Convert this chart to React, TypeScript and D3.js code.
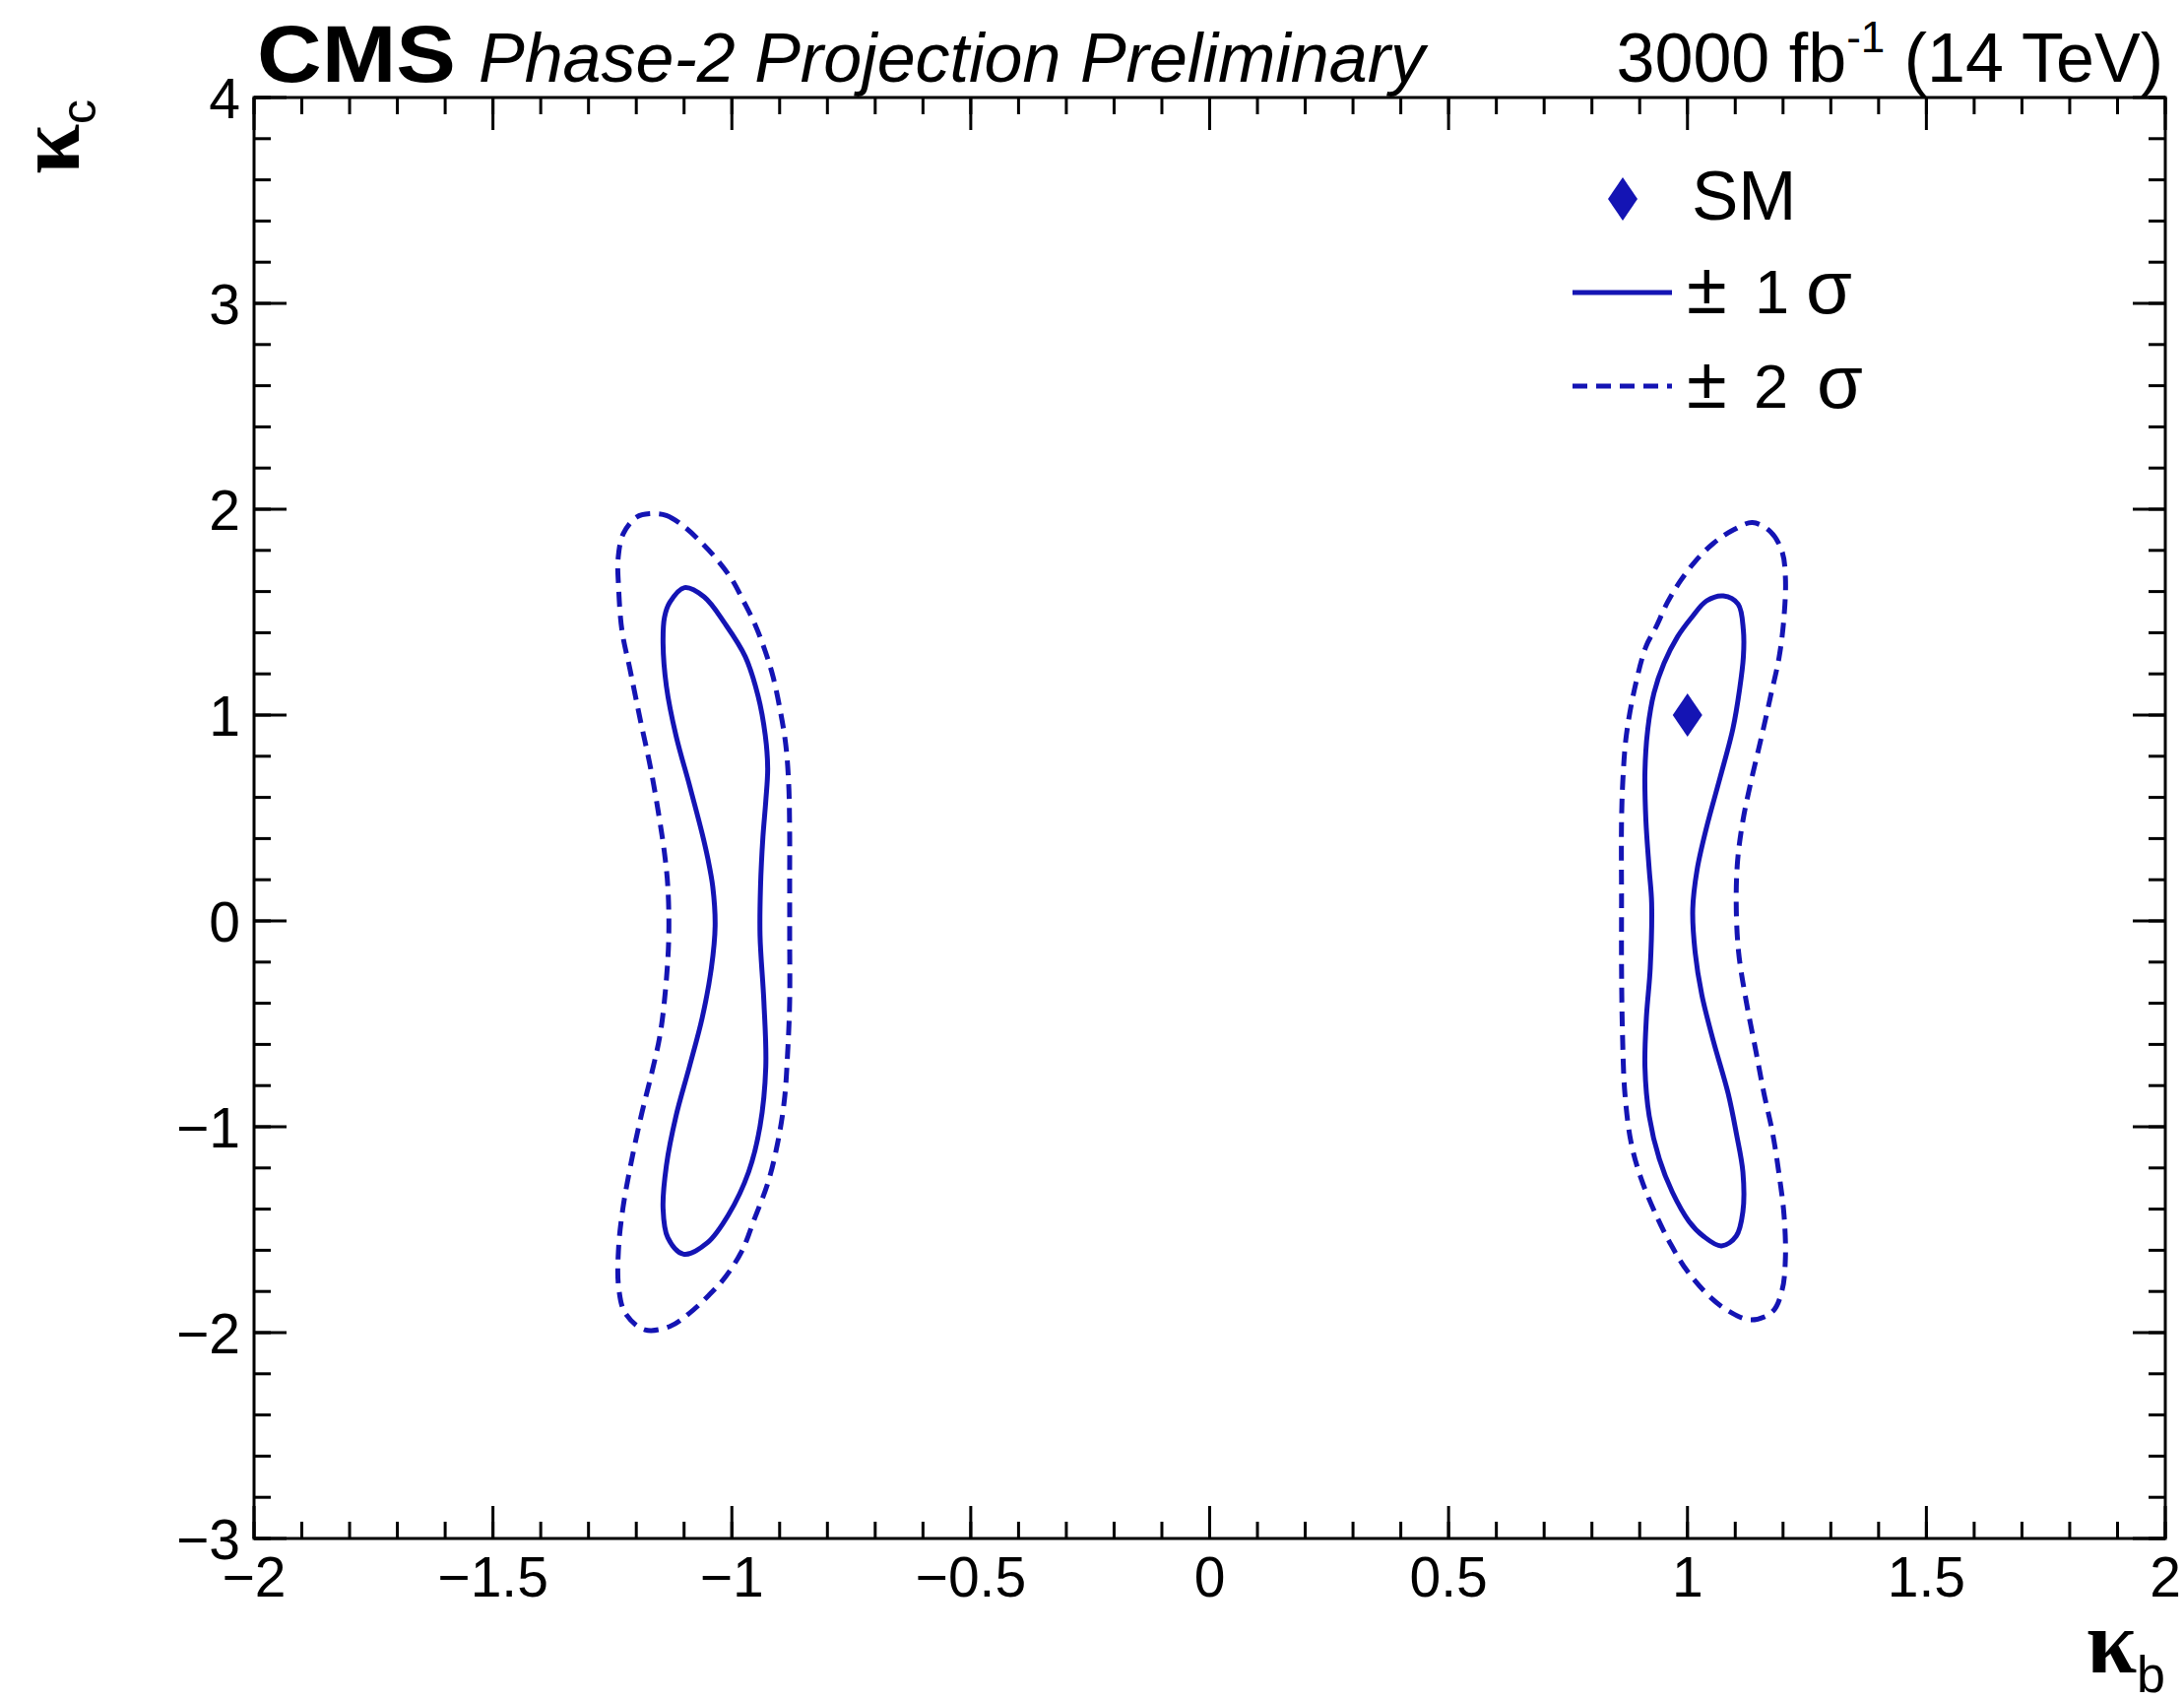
import React from "react";
import * as d3 from "d3";

const X_TICKS = [-2, -1.5, -1, -0.5, 0, 0.5, 1, 1.5, 2];
const X_TICK_LABELS = ["−2", "−1.5", "−1", "−0.5", "0", "0.5", "1", "1.5", "2"];
const Y_TICKS = [-3, -2, -1, 0, 1, 2, 3, 4];
const Y_TICK_LABELS = ["−3", "−2", "−1", "0", "1", "2", "3", "4"];

const SM_POINT: [number, number] = [1, 1];

const LEFT_1SIGMA: [number, number][] = [
  [-1.099, 1.619], [-1.058, 1.574], [-1.014, 1.443], [-0.972, 1.284], [-0.945, 1.092],
  [-0.93, 0.901], [-0.925, 0.742], [-0.929, 0.582], [-0.935, 0.407], [-0.94, 0.167],
  [-0.941, -0.072], [-0.933, -0.391], [-0.929, -0.71], [-0.941, -0.997], [-0.965, -1.22],
  [-1.007, -1.427], [-1.051, -1.563], [-1.101, -1.619], [-1.134, -1.539], [-1.144, -1.396],
  [-1.137, -1.188], [-1.117, -0.949], [-1.089, -0.71], [-1.062, -0.47], [-1.043, -0.231],
  [-1.035, -0.024], [-1.04, 0.167], [-1.05, 0.3], [-1.062, 0.423], [-1.089, 0.662],
  [-1.117, 0.901], [-1.137, 1.14], [-1.144, 1.348], [-1.141, 1.475], [-1.13, 1.547],
];

const LEFT_2SIGMA: [number, number][] = [
  [-1.172, 1.978], [-1.137, 1.97], [-1.099, 1.914], [-1.062, 1.834], [-1.031, 1.755],
  [-1.0, 1.659], [-0.976, 1.555], [-0.952, 1.443], [-0.931, 1.316], [-0.914, 1.188],
  [-0.898, 1.013], [-0.887, 0.853], [-0.881, 0.662], [-0.879, 0.423], [-0.879, 0.247],
  [-0.879, -0.072], [-0.879, -0.391], [-0.883, -0.63], [-0.89, -0.869], [-0.904, -1.077],
  [-0.924, -1.268], [-0.952, -1.443], [-0.979, -1.603], [-1.014, -1.731], [-1.048, -1.818],
  [-1.089, -1.906], [-1.13, -1.97], [-1.182, -1.986], [-1.223, -1.906], [-1.237, -1.778],
  [-1.237, -1.587], [-1.228, -1.396], [-1.212, -1.188], [-1.19, -0.949], [-1.168, -0.742],
  [-1.15, -0.55], [-1.138, -0.311], [-1.132, -0.072], [-1.134, 0.167], [-1.141, 0.33],
  [-1.152, 0.502], [-1.17, 0.742], [-1.192, 0.981], [-1.213, 1.22], [-1.23, 1.411],
  [-1.237, 1.619], [-1.238, 1.762], [-1.227, 1.882], [-1.199, 1.962],
];

const RIGHT_1SIGMA: [number, number][] = [
  [1.075, 1.579], [1.106, 1.539], [1.117, 1.411], [1.117, 1.284], [1.109, 1.124],
  [1.095, 0.933], [1.068, 0.694], [1.04, 0.455], [1.02, 0.247], [1.011, 0.056],
  [1.016, -0.152], [1.03, -0.359], [1.054, -0.582], [1.085, -0.837], [1.102, -1.029],
  [1.116, -1.22], [1.116, -1.411], [1.102, -1.531], [1.071, -1.579], [1.033, -1.531],
  [1.003, -1.459], [0.968, -1.316], [0.941, -1.156], [0.92, -0.949], [0.911, -0.71],
  [0.914, -0.47], [0.922, -0.231], [0.925, 0.088], [0.92, 0.247], [0.913, 0.487],
  [0.911, 0.726], [0.917, 0.933], [0.93, 1.108], [0.951, 1.252], [0.979, 1.38],
  [1.009, 1.475], [1.04, 1.555],
];

const RIGHT_2SIGMA: [number, number][] = [
  [1.136, 1.935], [1.174, 1.89], [1.198, 1.794], [1.205, 1.667], [1.202, 1.475],
  [1.192, 1.284], [1.174, 1.092], [1.154, 0.885], [1.133, 0.678], [1.116, 0.487],
  [1.105, 0.295], [1.102, 0.088], [1.107, -0.152], [1.123, -0.391], [1.143, -0.63],
  [1.16, -0.837], [1.178, -1.029], [1.192, -1.236], [1.202, -1.427], [1.205, -1.635],
  [1.198, -1.794], [1.178, -1.898], [1.133, -1.938], [1.088, -1.898], [1.047, -1.826],
  [0.999, -1.699], [0.965, -1.571], [0.934, -1.427], [0.903, -1.252], [0.882, -1.077],
  [0.869, -0.837], [0.864, -0.55], [0.862, -0.231], [0.862, 0.088], [0.862, 0.487],
  [0.865, 0.694], [0.872, 0.901], [0.889, 1.124], [0.913, 1.332], [0.934, 1.427],
  [0.958, 1.547], [0.985, 1.651], [1.016, 1.746], [1.054, 1.834], [1.095, 1.898],
];

const BLUE = "#1414b4";
const SANS = "'Liberation Sans', Arial, Helvetica, sans-serif";
const SERIF = "'Liberation Serif', 'Times New Roman', serif";

export default function App() {
  const W = 2218;
  const H = 1726;
  const x = d3.scaleLinear().domain([-2, 2]).range([258, 2199]);
  const y = d3.scaleLinear().domain([-3, 4]).range([1562, 99]);
  const [x0, x1] = x.range();
  const [y0, y1] = y.range();

  const line = d3
    .line<[number, number]>()
    .x((d) => x(d[0]))
    .y((d) => y(d[1]))
    .curve(d3.curveCatmullRomClosed.alpha(0.5));

  const xMinor = d3.range(0, 41).map((i) => -2 + i * 0.1);
  const yMinor = d3.range(0, 36).map((i) => -3 + i * 0.2);

  const majL = 33;
  const minL = 17;

  return (
    <svg
      width={W}
      height={H}
      style={{ position: "absolute", left: 0, top: 0, background: "#fff" }}
      xmlns="http://www.w3.org/2000/svg"
    >
      <rect x={0} y={0} width={W} height={H} fill="#fff" />

      {/* contours */}
      <path d={line(LEFT_2SIGMA) || ""} fill="none" stroke={BLUE} strokeWidth={5} strokeDasharray="15 9" />
      <path d={line(RIGHT_2SIGMA) || ""} fill="none" stroke={BLUE} strokeWidth={5} strokeDasharray="15 9" />
      <path d={line(LEFT_1SIGMA) || ""} fill="none" stroke={BLUE} strokeWidth={5} />
      <path d={line(RIGHT_1SIGMA) || ""} fill="none" stroke={BLUE} strokeWidth={5} />

      {/* SM point */}
      <path
        transform={`translate(${x(SM_POINT[0])},${y(SM_POINT[1])})`}
        d="M0,-22 L15,0 L0,22 L-15,0 Z"
        fill={BLUE}
      />

      {/* frame */}
      <rect x={x0} y={y1} width={x1 - x0} height={y0 - y1} fill="none" stroke="#000" strokeWidth={3} />

      {/* ticks */}
      <g stroke="#000" strokeWidth={3}>
        {xMinor.map((v, i) => (
          <g key={"xm" + i}>
            <line x1={x(v)} x2={x(v)} y1={y0} y2={y0 - minL} />
            <line x1={x(v)} x2={x(v)} y1={y1} y2={y1 + minL} />
          </g>
        ))}
        {X_TICKS.map((v, i) => (
          <g key={"xM" + i}>
            <line x1={x(v)} x2={x(v)} y1={y0} y2={y0 - majL} />
            <line x1={x(v)} x2={x(v)} y1={y1} y2={y1 + majL} />
          </g>
        ))}
        {yMinor.map((v, i) => (
          <g key={"ym" + i}>
            <line x1={x0} x2={x0 + minL} y1={y(v)} y2={y(v)} />
            <line x1={x1} x2={x1 - minL} y1={y(v)} y2={y(v)} />
          </g>
        ))}
        {Y_TICKS.map((v, i) => (
          <g key={"yM" + i}>
            <line x1={x0} x2={x0 + majL} y1={y(v)} y2={y(v)} />
            <line x1={x1} x2={x1 - majL} y1={y(v)} y2={y(v)} />
          </g>
        ))}
      </g>

      {/* tick labels */}
      <g fontFamily={SANS} fontSize={57} fill="#000">
        {X_TICKS.map((v, i) => (
          <text key={"xl" + i} x={x(v)} y={1621} textAnchor="middle">
            {X_TICK_LABELS[i]}
          </text>
        ))}
        {Y_TICKS.map((v, i) => (
          <text key={"yl" + i} x={244} y={y(v)} dy="0.36em" textAnchor="end">
            {Y_TICK_LABELS[i]}
          </text>
        ))}
      </g>

      {/* axis titles */}
      <text x={2199} y={1698} textAnchor="end" fill="#000">
        <tspan fontFamily={SERIF} fontWeight="bold" fontSize={92}>κ</tspan>
        <tspan fontFamily={SANS} fontSize={52} dy={20}>b</tspan>
      </text>
      <text transform="translate(80,101) rotate(-90)" textAnchor="end" fill="#000">
        <tspan fontFamily={SERIF} fontWeight="bold" fontSize={92}>κ</tspan>
        <tspan fontFamily={SANS} fontSize={50} dy={17}>c</tspan>
      </text>

      {/* header */}
      <text x={261} y={83} fontFamily={SANS} fontWeight="bold" fontSize={82} textLength={202} lengthAdjust="spacingAndGlyphs" fill="#000">
        CMS
      </text>
      <text x={486} y={83} fontFamily={SANS} fontStyle="italic" fontSize={70} fill="#000">
        Phase-2 Projection Preliminary
      </text>
      <text x={2197} y={83} fontFamily={SANS} fontSize={70} textAnchor="end" fill="#000">
        3000 fb
        <tspan fontSize={44} dy={-30}>-1</tspan>
        <tspan dy={30}> (14 TeV)</tspan>
      </text>

      {/* legend */}
      <path transform="translate(1648,202)" d="M0,-22 L15,0 L0,22 L-15,0 Z" fill={BLUE} />
      <text x={1718} y={223} fontFamily={SANS} fontSize={71} fill="#000">SM</text>

      <line x1={1597} x2={1698} y1={297} y2={297} stroke={BLUE} strokeWidth={5} />
      <g fontFamily={SANS} fill="#000">
        <text x={1713} y={318} fontSize={74}>±</text>
        <text x={1782} y={318} fontSize={63}>1</text>
        <text x={1834} y={318} fontSize={76}>σ</text>
      </g>

      <line x1={1597} x2={1698} y1={392} y2={392} stroke={BLUE} strokeWidth={5} strokeDasharray="15 9" />
      <g fontFamily={SANS} fill="#000">
        <text x={1713} y={414} fontSize={74}>±</text>
        <text x={1781} y={414} fontSize={63}>2</text>
        <text x={1845} y={414} fontSize={76}>σ</text>
      </g>
    </svg>
  );
}
